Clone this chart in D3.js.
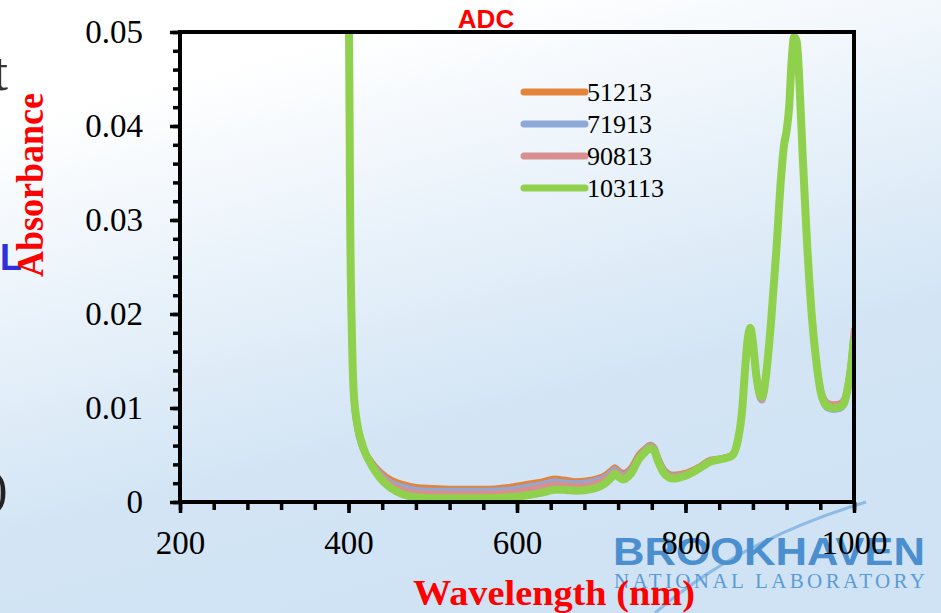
<!DOCTYPE html>
<html>
<head>
<meta charset="utf-8">
<script src="https://cdn.jsdelivr.net/npm/d3@7"></script>
<style>
body { margin: 0; overflow: hidden; }
</style>
</head>
<body>
<svg id="chart"></svg>
<script>
// wavelengths (nm)
var wavelength = [
  399, 400.5, 402, 404, 406, 410, 415, 420, 428, 438,
  450, 465, 480, 500, 530, 560, 590, 610, 630, 645,
  655, 670, 690, 705, 712, 716, 720, 726, 735, 745,
  752, 758, 763, 768, 775, 785, 800, 815, 830, 845,
  855, 862, 867, 871, 874, 877, 880, 884, 888, 891,
  896, 902, 908, 913, 917, 920, 923, 926, 929, 932,
  935, 939, 944, 950, 956, 961, 965, 970, 976, 983,
  988, 992, 996, 1000];

var abs51213 = [
  0.07, 0.051, 0.029, 0.017, 0.0115, 0.0082, 0.0063, 0.0053, 0.0042, 0.0032,
  0.0024, 0.0019, 0.0016, 0.0015, 0.0014, 0.0014, 0.0016, 0.0019, 0.0022, 0.0025,
  0.0024, 0.0022, 0.0024, 0.0029, 0.0034, 0.0037, 0.0034, 0.0031, 0.0036, 0.0051,
  0.0057, 0.0061, 0.0058, 0.0046, 0.0034, 0.0029, 0.0031, 0.0037, 0.0045, 0.0047,
  0.0050, 0.0066, 0.0095, 0.0144, 0.0174, 0.0184, 0.0169, 0.0134, 0.0114, 0.0111,
  0.0137, 0.0196, 0.0269, 0.0339, 0.0379, 0.0394, 0.0419, 0.0469, 0.0494, 0.0489,
  0.0449, 0.0369, 0.0279, 0.0196, 0.0143, 0.0114, 0.0104, 0.0100, 0.0099, 0.0100,
  0.0104, 0.0117, 0.0140, 0.0176];

var abs71913 = [
  0.07, 0.051, 0.029, 0.017, 0.0113, 0.0080, 0.0061, 0.0051, 0.0040, 0.0030,
  0.0021, 0.0016, 0.0013, 0.0012, 0.0012, 0.0012, 0.0013, 0.0016, 0.0019, 0.0022,
  0.0021, 0.0020, 0.0022, 0.0027, 0.0032, 0.0035, 0.0032, 0.0029, 0.0034, 0.0049,
  0.0056, 0.0060, 0.0057, 0.0045, 0.0033, 0.0028, 0.0030, 0.0036, 0.0044, 0.0046,
  0.0049, 0.0065, 0.0094, 0.0143, 0.0173, 0.0183, 0.0168, 0.0132, 0.0111, 0.0108,
  0.0135, 0.0195, 0.0268, 0.0338, 0.0378, 0.0393, 0.0418, 0.0468, 0.0493, 0.0488,
  0.0448, 0.0368, 0.0278, 0.0195, 0.0142, 0.0113, 0.0103, 0.0099, 0.0098, 0.0099,
  0.0103, 0.0116, 0.0139, 0.0176];

var abs90813 = [
  0.07, 0.051, 0.029, 0.017, 0.0114, 0.0081, 0.0062, 0.0051, 0.0039, 0.0028,
  0.0019, 0.0013, 0.0010, 0.0009, 0.0009, 0.0009, 0.0010, 0.0013, 0.0016, 0.0019,
  0.0018, 0.0017, 0.0019, 0.0025, 0.0030, 0.0033, 0.0030, 0.0027, 0.0033, 0.0048,
  0.0055, 0.0059, 0.0056, 0.0044, 0.0032, 0.0027, 0.0030, 0.0036, 0.0044, 0.0047,
  0.0050, 0.0066, 0.0096, 0.0146, 0.0176, 0.0186, 0.0171, 0.0134, 0.0112, 0.0109,
  0.0137, 0.0197, 0.0270, 0.0340, 0.0380, 0.0395, 0.0420, 0.0470, 0.0495, 0.0490,
  0.0450, 0.0371, 0.0282, 0.0200, 0.0148, 0.0119, 0.0109, 0.0105, 0.0104, 0.0105,
  0.0109, 0.0123, 0.0147, 0.0185];

var abs103113 = [
  0.07, 0.052, 0.03, 0.018, 0.012, 0.0085, 0.0065, 0.0052, 0.0038, 0.0025,
  0.0015, 0.0008, 0.0005, 0.0004, 0.0004, 0.0004, 0.0005, 0.0007, 0.0010, 0.0013,
  0.0013, 0.0012, 0.0014, 0.0020, 0.0026, 0.0030, 0.0027, 0.0024, 0.0030, 0.0046,
  0.0053, 0.0057, 0.0054, 0.0042, 0.0030, 0.0025, 0.0028, 0.0035, 0.0043, 0.0046,
  0.0049, 0.0065, 0.0095, 0.0145, 0.0175, 0.0185, 0.0170, 0.0135, 0.0115, 0.0112,
  0.0138, 0.0197, 0.0270, 0.0340, 0.0380, 0.0395, 0.0420, 0.0470, 0.0495, 0.0490,
  0.0450, 0.0370, 0.0280, 0.0197, 0.0144, 0.0115, 0.0105, 0.0101, 0.0100, 0.0101,
  0.0105, 0.0118, 0.0140, 0.0175];

var seriesNames = ["51213", "71913", "90813", "103113"];
var seriesValues = [abs51213, abs71913, abs90813, abs103113];
var seriesColors = ["#e3843a", "#8ea9d8", "#d98f8f", "#8fd14c"];

var xMajorTicks = [200, 400, 600, 800, 1000];
var xMinorTicks = d3.range(200, 1001, 40);
var yMajorTicks = [0, 0.01, 0.02, 0.03, 0.04, 0.05];
var yMinorTicks = d3.range(0, 0.0501, 0.002);

// size of the page and the plot box
var width = 941,
height = 613;
var margin = {top: 32, right: 87, bottom: 111, left: 180};
var plotW = width - margin.left - margin.right,
plotH = height - margin.top - margin.bottom;

var svg = d3.select("#chart")
.attr("width", width)
.attr("height", height);

// slide background gradient
var defs = svg.append("defs");
var grad = defs.append("linearGradient")
.attr("id", "bg")
.attr("x1", "0.25").attr("y1", "0")
.attr("x2", "0.6").attr("y2", "0.9");
grad.append("stop").attr("offset", "0.1").attr("stop-color", "#ffffff");
grad.append("stop").attr("offset", "0.75").attr("stop-color", "#d3e5f5");
grad.append("stop").attr("offset", "1").attr("stop-color", "#d0e3f4");

defs.append("clipPath")
.attr("id", "plotclip")
.append("rect")
.attr("x", 0).attr("y", 0)
.attr("width", plotW).attr("height", plotH);

svg.append("rect")
.attr("width", width)
.attr("height", height)
.attr("fill", "url(#bg)");

// bits of the slide around the chart
svg.append("text")
.attr("x", -7).attr("y", 90)
.text("t")
.style("font-family", "Liberation Serif, serif")
.style("font-size", "54px")
.style("fill", "#333");
svg.append("text")
.attr("x", 0).attr("y", 270)
.text("L")
.style("font-family", "Liberation Sans, Arial, sans-serif")
.style("font-weight", "bold")
.style("font-size", "36px")
.style("fill", "#3030d8");
svg.append("text")
.attr("x", -9).attr("y", 505)
.text(")")
.style("font-family", "Liberation Serif, serif")
.style("font-size", "50px")
.style("fill", "#222");

// Brookhaven logo
svg.append("path")
.attr("d", "M655,613 Q740,540 866,502")
.attr("fill", "none")
.attr("stroke", "#8dbbe6")
.attr("stroke-width", 3);
svg.append("text")
.attr("x", 613).attr("y", 565)
.attr("textLength", 312)
.attr("lengthAdjust", "spacingAndGlyphs")
.text("BROOKHAVEN")
.style("font-family", "Liberation Sans, Arial, sans-serif")
.style("font-weight", "bold")
.style("font-size", "39px")
.style("fill", "#4b8fcf");
svg.append("text")
.attr("x", 614).attr("y", 588)
.attr("textLength", 311)
.attr("lengthAdjust", "spacing")
.text("NATIONAL LABORATORY")
.style("font-family", "Liberation Serif, serif")
.style("font-size", "21px")
.style("fill", "#5b9bd6");

var g = svg.append("g")
.attr("transform", "translate(" + margin.left + "," + margin.top + ")");

var x = d3.scaleLinear()
.domain([200, 1000])
.range([0, plotW]);
var y = d3.scaleLinear()
.domain([0, 0.05])
.range([plotH, 0]);

// lines
var line = d3.line()
.x(function(d) { return x(d[0]); })
.y(function(d) { return y(d[1]); })
.curve(d3.curveMonotoneX);

var lines = g.append("g").attr("clip-path", "url(#plotclip)");
seriesValues.forEach(function(vals, i) {
  lines.append("path")
  .datum(wavelength.map(function(w, j) { return [w, vals[j]]; }))
  .attr("d", line)
  .attr("fill", "none")
  .attr("stroke", seriesColors[i])
  .attr("stroke-width", i == 3 ? 8 : 6)
  .attr("stroke-linejoin", "round");
});

// minor ticks
g.append("g")
.attr("transform", "translate(0," + plotH + ")")
.call(d3.axisBottom(x).tickValues(xMinorTicks).tickSize(8).tickFormat(""))
.call(function(a) { a.select(".domain").remove(); })
.selectAll("line").attr("stroke-width", 3.5);
g.append("g")
.call(d3.axisLeft(y).tickValues(yMinorTicks).tickSize(7).tickFormat(""))
.call(function(a) { a.select(".domain").remove(); })
.selectAll("line").attr("stroke-width", 3.5);

// major ticks + labels
var xAxis = g.append("g")
.attr("transform", "translate(0," + plotH + ")")
.call(d3.axisBottom(x).tickValues(xMajorTicks).tickSize(11).tickPadding(18)
  .tickFormat(function(d) { return String(d); }));
xAxis.select(".domain").remove();
xAxis.selectAll("line").attr("stroke-width", 3.5);
xAxis.selectAll("text")
.style("font-family", "Liberation Serif, Times New Roman, serif")
.style("font-size", "33px")
.style("fill", "#000");

var yAxis = g.append("g")
.call(d3.axisLeft(y).tickValues(yMajorTicks).tickSize(10).tickPadding(27)
  .tickFormat(function(d) { return d == 0 ? "0" : d3.format(".2f")(d); }));
yAxis.select(".domain").remove();
yAxis.selectAll("line").attr("stroke-width", 3.5);
yAxis.selectAll("text")
.style("font-family", "Liberation Serif, Times New Roman, serif")
.style("font-size", "33px")
.style("fill", "#000");

// frame
g.append("rect")
.attr("width", plotW)
.attr("height", plotH)
.attr("fill", "none")
.attr("stroke", "#000")
.attr("stroke-width", 4);

// legend
var legend = g.append("g");
seriesNames.forEach(function(name, i) {
  var ly = 60 + i * 32;
  legend.append("line")
  .attr("x1", 344).attr("x2", 405)
  .attr("y1", ly).attr("y2", ly)
  .attr("stroke", seriesColors[i])
  .attr("stroke-width", 7)
  .attr("stroke-linecap", "round");
  legend.append("text")
  .attr("x", 407).attr("y", ly)
  .attr("dy", "0.35em")
  .text(name)
  .style("font-family", "Liberation Serif, Times New Roman, serif")
  .style("font-size", "26px")
  .style("fill", "#000");
});

// title and axis titles
svg.append("text")
.attr("text-anchor", "middle")
.attr("x", 486)
.attr("y", 28)
.text("ADC")
.style("font-family", "Liberation Sans, Arial, sans-serif")
.style("font-weight", "bold")
.style("font-size", "26px")
.style("fill", "#ff0000");

svg.append("text")
.attr("text-anchor", "middle")
.attr("transform", "translate(43,185) rotate(-90)")
.attr("textLength", 184)
.attr("lengthAdjust", "spacingAndGlyphs")
.text("Absorbance")
.style("font-family", "Liberation Serif, Times New Roman, serif")
.style("font-weight", "bold")
.style("font-size", "37px")
.style("fill", "#ff0000");

svg.append("text")
.attr("text-anchor", "middle")
.attr("x", 554)
.attr("y", 605)
.attr("textLength", 282)
.attr("lengthAdjust", "spacingAndGlyphs")
.text("Wavelength (nm)")
.style("font-family", "Liberation Serif, Times New Roman, serif")
.style("font-weight", "bold")
.style("font-size", "35px")
.style("fill", "#ff0000");
</script>
</body>
</html>
